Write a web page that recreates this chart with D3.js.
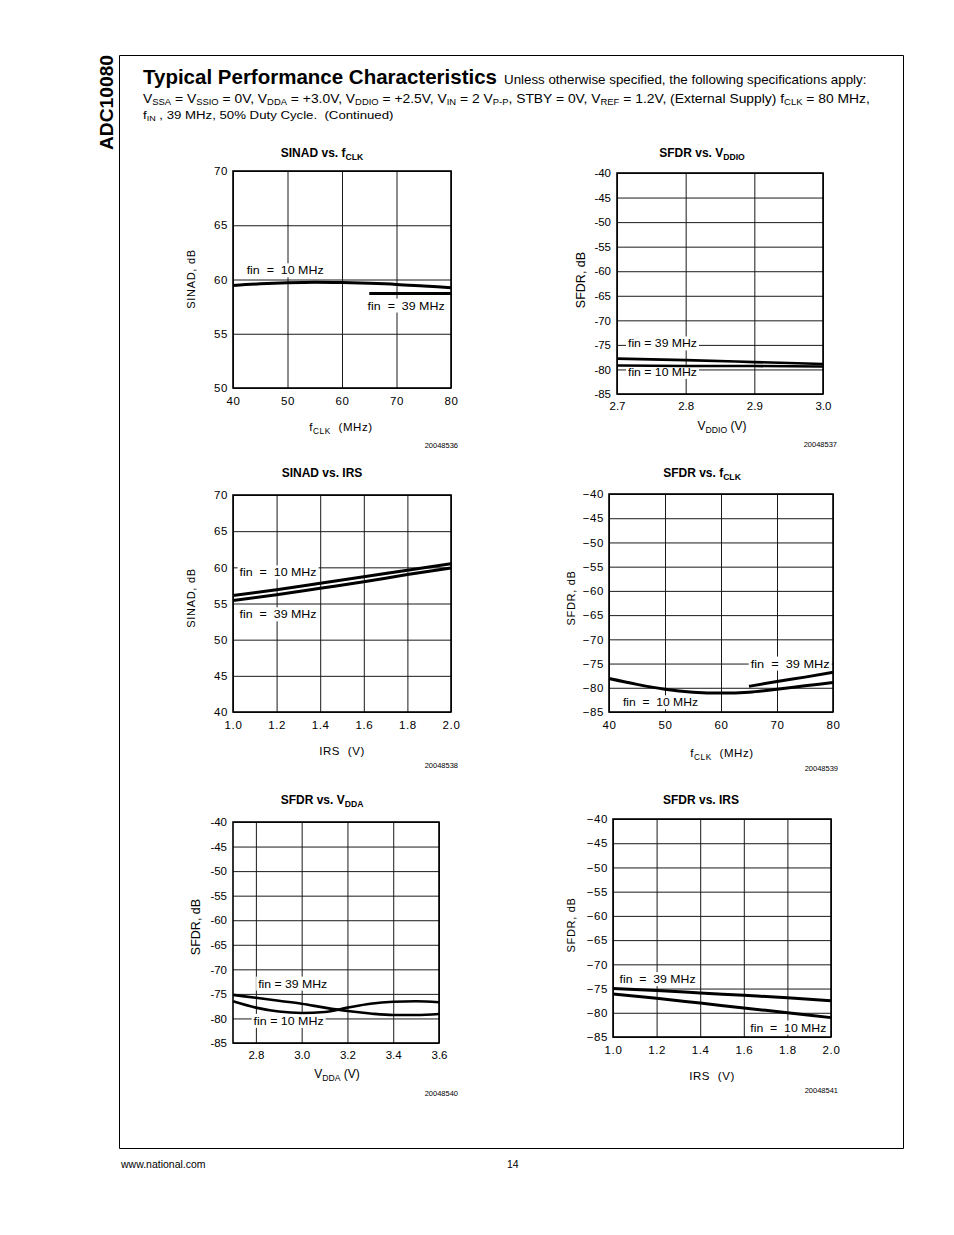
<!DOCTYPE html>
<html><head><meta charset="utf-8">
<script src="https://cdn.jsdelivr.net/npm/d3@7"></script>
<style>
body{margin:0;background:#fff}
svg{display:block}
text{font-family:"Liberation Sans",Arial,Helvetica,sans-serif;fill:#000}
</style>
</head><body>
<svg id="page" width="954" height="1235"></svg>
<script>
// ---------------- DATA ----------------
// SINAD vs fCLK
const fclkA = [40, 45, 50, 55, 60, 65, 70, 75, 80];
const sinadFclk10 = [59.45, 59.6, 59.7, 59.75, 59.72, 59.65, 59.55, 59.4, 59.25];
const fclkA39 = [65, 70, 75, 80];
const sinadFclk39 = [58.7, 58.7, 58.7, 58.7];
// SFDR vs VDDIO
const vddio = [2.7, 2.8, 2.9, 3.0];
const sfdrVddio39 = [-77.8, -78.1, -78.5, -78.9];
const sfdrVddio10 = [-79.2, -79.3, -79.3, -79.4];
// SINAD vs IRS
const irsC = [1.0, 1.2, 1.4, 1.6, 1.8, 2.0];
const sinadIrs10 = [56.1, 56.9, 57.8, 58.7, 59.6, 60.5];
const sinadIrs39 = [55.4, 56.2, 57.1, 58.0, 59.0, 59.9];
// SFDR vs fCLK
const fclkD = [40, 45, 50, 55, 60, 65, 70, 75, 80];
const sfdrFclk10 = [-78.1, -79.3, -80.3, -80.9, -81.1, -80.9, -80.3, -79.6, -78.9];
const fclkD39 = [65, 70, 75, 80];
const sfdrFclk39 = [-79.7, -78.7, -77.8, -76.8];
// SFDR vs VDDA
const vdda = [2.7, 2.8, 2.9, 3.0, 3.1, 3.2, 3.3, 3.4, 3.5, 3.6];
const sfdrVdda39 = [-75.2, -75.8, -76.4, -77.0, -77.8, -78.5, -79.0, -79.3, -79.3, -79.1];
const sfdrVdda10 = [-76.5, -77.8, -78.6, -78.9, -78.7, -77.8, -77.0, -76.6, -76.5, -76.7];
// SFDR vs IRS
const irsF = [1.0, 1.2, 1.4, 1.6, 1.8, 2.0];
const sfdrIrs39 = [-75.0, -75.4, -75.9, -76.4, -76.9, -77.5];
const sfdrIrs10 = [-76.1, -77.0, -78.0, -79.0, -80.0, -81.0];
// tick values
const fclkTicks = [40, 50, 60, 70, 80];
const sinadFclkTicks = [50, 55, 60, 65, 70];
const vddioTicks = [2.7, 2.8, 2.9, 3.0];
const sfdrTicks = [-85, -80, -75, -70, -65, -60, -55, -50, -45, -40];
const irsTicks = [1.0, 1.2, 1.4, 1.6, 1.8, 2.0];
const sinadIrsTicks = [40, 45, 50, 55, 60, 65, 70];
const vddaTicks = [2.8, 3.0, 3.2, 3.4, 3.6];

// ---------------- PAGE ----------------
const svg = d3.select('#page');
const hyphen = d => String(d);
const f1 = d3.format('.1f');
const fInt = d3.format('d');   // uses U+2212 minus

function rich(textSel, segs, fs, shiftRatio = 0.28, subRatio = 0.72) {
  let inSub = false;
  const shift = fs * shiftRatio;
  segs.forEach(s => {
    const t = textSel.append('tspan').text(s.t);
    if (s.sub && !inSub) { t.attr('dy', shift).attr('font-size', fs * subRatio); inSub = true; }
    else if (s.sub) { t.attr('font-size', fs * subRatio); }
    else if (!s.sub && inSub) { t.attr('dy', -shift); inSub = false; }
  });
  return textSel;
}
function fitWidth(sel, x, y, w) {
  const bw = sel.node().getBBox().width;
  sel.attr('transform', `translate(${x},${y}) scale(${w / bw},1)`);
}

// frame
svg.append('path').attr('d', 'M119.5,55.5H903.5V1148.5H119.5Z')
  .attr('fill', 'none').attr('stroke', '#000').attr('stroke-width', 1);

// vertical tab
svg.append('text').attr('transform', 'translate(113,150) rotate(-90)')
  .attr('font-size', 18).attr('font-weight', 'bold')
  .attr('textLength', 95).attr('lengthAdjust', 'spacingAndGlyphs').text('ADC10080');

// header
const h1 = svg.append('text').attr('font-size', 20).attr('font-weight', 'bold')
  .text('Typical Performance Characteristics');
fitWidth(h1, 143, 84, 354);
const h1b = svg.append('text').attr('font-size', 13)
  .text('Unless otherwise specified, the following specifications apply:');
fitWidth(h1b, 504, 84, 363);
const h2 = rich(svg.append('text').attr('font-size', 12.5), [
  {t:'V'},{t:'SSA',sub:1},{t:' = V'},{t:'SSIO',sub:1},{t:' = 0V, V'},{t:'DDA',sub:1},
  {t:' = +3.0V, V'},{t:'DDIO',sub:1},{t:' = +2.5V, V'},{t:'IN',sub:1},{t:' = 2 V'},{t:'P-P',sub:1},
  {t:', STBY = 0V, V'},{t:'REF',sub:1},{t:' = 1.2V, (External Supply) f'},{t:'CLK',sub:1},{t:' = 80 MHz,'}
], 12.5, 0.18, 0.68);
fitWidth(h2, 143, 103, 728);
const h3 = rich(svg.append('text').attr('font-size', 11.5), [
  {t:'f'},{t:'IN',sub:1},{t:' , 39 MHz, 50% Duty Cycle.  (Continued)'}
], 11.5, 0.18, 0.68).attr('xml:space', 'preserve');
fitWidth(h3, 143, 118.5, 251);

// footer
svg.append('text').attr('x', 121).attr('y', 1168).attr('font-size', 10.5).text('www.national.com');
svg.append('text').attr('x', 507).attr('y', 1168).attr('font-size', 10.5).text('14');

// ---------------- CHARTS ----------------
const charts = [
  { title:[{t:'SINAD vs. f'},{t:'CLK',sub:1}], tx:322, ty:157,
    rect:{x:233, y:171, w:218, h:217}, style:'mono',
    xd:[40,80], xt:fclkTicks, xf:fInt, yd:[50,70], yt:sinadFclkTicks, yf:fInt,
    ylab:'SINAD, dB', ylx:191, yly:279,
    xlab:[{t:'f'},{t:'CLK',sub:1},{t:'  (MHz)'}], xlx:341, xly:431,
    id:'20048536', idx:458, idy:448,
    series:[{x:fclkA, y:sinadFclk10},{x:fclkA39, y:sinadFclk39}],
    labels:[{t:'fin  =  10 MHz', x:42.5, y:60.85, w:77},{t:'fin  =  39 MHz', x:64.7, y:57.6, w:77}] },
  { title:[{t:'SFDR vs. V'},{t:'DDIO',sub:1}], tx:702, ty:157,
    rect:{x:617, y:173, w:206, h:221}, style:'arial',
    xd:[2.7,3.0], xt:vddioTicks, xf:f1, yd:[-85,-40], yt:sfdrTicks, yf:hyphen,
    ylab:'SFDR, dB', ylx:581, yly:280,
    xlab:[{t:'V'},{t:'DDIO',sub:1},{t:' (V)'}], xlx:722, xly:430,
    id:'20048537', idx:837, idy:447,
    series:[{x:vddio, y:sfdrVddio39},{x:vddio, y:sfdrVddio10}],
    labels:[{t:'fin = 39 MHz', x:2.716, y:-74.7, w:69},{t:'fin = 10 MHz', x:2.716, y:-80.5, w:69}] },
  { title:[{t:'SINAD vs. IRS'}], tx:322, ty:477,
    rect:{x:233, y:495, w:218, h:217}, style:'mono',
    xd:[1,2], xt:irsTicks, xf:f1, yd:[40,70], yt:sinadIrsTicks, yf:fInt,
    ylab:'SINAD, dB', ylx:191, yly:598,
    xlab:[{t:'IRS  (V)'}], xlx:342, xly:755,
    id:'20048538', idx:458, idy:768,
    series:[{x:irsC, y:sinadIrs10},{x:irsC, y:sinadIrs39}],
    labels:[{t:'fin  =  10 MHz', x:1.03, y:59.3, w:77},{t:'fin  =  39 MHz', x:1.03, y:53.5, w:77}] },
  { title:[{t:'SFDR vs. f'},{t:'CLK',sub:1}], tx:702, ty:477,
    rect:{x:609, y:494, w:224, h:218}, style:'mono',
    xd:[40,80], xt:fclkTicks, xf:fInt, yd:[-85,-40], yt:sfdrTicks, yf:fInt,
    ylab:'SFDR, dB', ylx:571, yly:598,
    xlab:[{t:'f'},{t:'CLK',sub:1},{t:'  (MHz)'}], xlx:722, xly:757,
    id:'20048539', idx:838, idy:771,
    series:[{x:fclkD, y:sfdrFclk10},{x:fclkD39, y:sfdrFclk39}],
    labels:[{t:'fin  =  39 MHz', x:65.3, y:-75.0, w:79},{t:'fin  =  10 MHz', x:42.5, y:-83.0, w:75}] },
  { title:[{t:'SFDR vs. V'},{t:'DDA',sub:1}], tx:322, ty:804,
    rect:{x:233, y:822, w:206, h:221}, style:'arial',
    xd:[2.7,3.6], xt:vddaTicks, xf:f1, yd:[-85,-40], yt:sfdrTicks, yf:hyphen,
    ylab:'SFDR, dB', ylx:196, yly:927,
    xlab:[{t:'V'},{t:'DDA',sub:1},{t:' (V)'}], xlx:337, xly:1078,
    id:'20048540', idx:458, idy:1096,
    series:[{x:vdda, y:sfdrVdda39},{x:vdda, y:sfdrVdda10}],
    labels:[{t:'fin = 39 MHz', x:2.81, y:-72.9, w:69},{t:'fin = 10 MHz', x:2.79, y:-80.5, w:70}] },
  { title:[{t:'SFDR vs. IRS'}], tx:701, ty:804,
    rect:{x:613, y:819, w:218, h:218}, style:'mono',
    xd:[1,2], xt:irsTicks, xf:f1, yd:[-85,-40], yt:sfdrTicks, yf:fInt,
    ylab:'SFDR, dB', ylx:571, yly:925,
    xlab:[{t:'IRS  (V)'}], xlx:712, xly:1080,
    id:'20048541', idx:838, idy:1093,
    series:[{x:irsF, y:sfdrIrs39},{x:irsF, y:sfdrIrs10}],
    labels:[{t:'fin  =  39 MHz', x:1.03, y:-73.05, w:76},{t:'fin  =  10 MHz', x:1.63, y:-83.05, w:76}] }
];

charts.forEach(c => {
  const r = c.rect;
  const mono = c.style === 'mono';
  const tickFs = 11.5;
  const x = d3.scaleLinear().domain(c.xd).range([r.x, r.x + r.w]);
  const y = d3.scaleLinear().domain(c.yd).range([r.y + r.h, r.y]);
  const g = svg.append('g');

  // title
  rich(g.append('text').attr('x', c.tx).attr('y', c.ty).attr('text-anchor', 'middle')
    .attr('font-size', 12).attr('font-weight', 'bold'), c.title, 12);

  // axes with grid
  const ax = g.append('g').attr('transform', `translate(0,${r.y + r.h})`)
    .call(d3.axisBottom(x).tickValues(c.xt).tickFormat(c.xf)
      .tickSizeInner(-r.h).tickSizeOuter(0).tickPadding(mono ? 9 : 8));
  const ay = g.append('g').attr('transform', `translate(${r.x},0)`)
    .call(d3.axisLeft(y).tickValues(c.yt).tickFormat(c.yf)
      .tickSizeInner(-r.w).tickSizeOuter(0).tickPadding(mono ? 5 : 6));
  [ax, ay].forEach(a => {
    a.select('.domain').remove();
    a.selectAll('line').attr('stroke', '#1a1a1a').attr('stroke-width', 1);
    a.selectAll('text').attr('font-size', tickFs).attr('fill', '#000')
      .style('font-family', '"Liberation Sans",Arial,sans-serif')
      .attr('letter-spacing', mono ? 0.6 : 0);
  });

  // plot border
  g.append('rect').attr('x', r.x).attr('y', r.y).attr('width', r.w).attr('height', r.h)
    .attr('fill', 'none').attr('stroke', '#000').attr('stroke-width', 1.6);

  // label backgrounds
  const lblFs = mono ? 11 : 11.5;
  const lbls = c.labels.map(l => ({...l, px: x(l.x), py: y(l.y)}));
  lbls.forEach(l => {
    g.append('rect').attr('x', l.px - 2).attr('y', l.py - 7).attr('width', l.w + 4).attr('height', 14)
      .attr('fill', '#fff');
  });

  // data lines
  const line = d3.line().x(d => x(d[0])).y(d => y(d[1])).curve(d3.curveMonotoneX);
  c.series.forEach(s => {
    g.append('path').datum(s.x.map((v, i) => [v, s.y[i]])).attr('d', line)
      .attr('fill', 'none').attr('stroke', '#000').attr('stroke-width', mono ? 3 : 2.6)
      .attr('stroke-linecap', 'butt');
  });

  // label texts
  lbls.forEach(l => {
    g.append('text').attr('x', l.px).attr('y', l.py + 4).attr('font-size', lblFs)
      .attr('xml:space', 'preserve').style('white-space', 'pre')
      .attr('textLength', l.w).attr('lengthAdjust', 'spacingAndGlyphs').text(l.t);
  });

  // y label
  g.append('text').attr('transform', `translate(${c.ylx},${c.yly}) rotate(-90)`)
    .attr('text-anchor', 'middle').attr('dy', '0.35em')
    .attr('font-size', mono ? 11 : 12.5).attr('letter-spacing', mono ? 0.7 : 0).text(c.ylab);

  // x label
  rich(g.append('text').attr('x', c.xlx).attr('y', c.xly).attr('text-anchor', 'middle')
    .attr('font-size', mono ? 11.5 : 12).attr('letter-spacing', mono ? 0.6 : 0)
    .attr('xml:space', 'preserve').style('white-space', 'pre'), c.xlab, mono ? 11.5 : 12);

  // figure id
  g.append('text').attr('x', c.idx).attr('y', c.idy).attr('text-anchor', 'end')
    .attr('font-size', 7.5).text(c.id);
});
</script>
</body></html>
